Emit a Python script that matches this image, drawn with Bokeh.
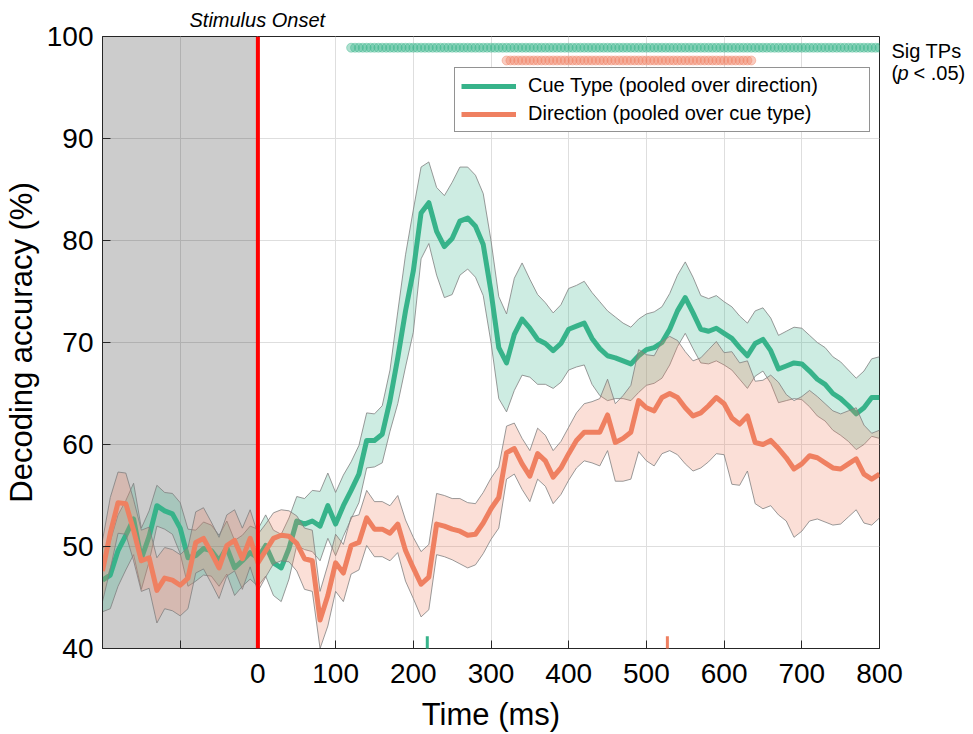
from bokeh.plotting import figure
from bokeh.layouts import row
from bokeh.models import (Range1d, FixedTicker, Span, BoxAnnotation, Label,
                          Legend, LegendItem, Arrow, ColumnDataSource)
from bokeh.embed import file_html
from bokeh.resources import INLINE

# ---------------- data ----------------
times = list(range(-200, 810, 10))  # ms

cue_mean = [
    46.7, 47.2, 49.6, 51.1, 52.7, 48.8, 51.0, 54.0, 53.5, 53.2,
    51.8, 48.9, 49.1, 49.8, 49.6, 48.6, 49.9, 47.9, 48.6, 49.4,
    48.9, 50.1, 48.4, 47.9, 49.8, 52.5, 52.2, 52.5, 52.0, 54.0,
    52.2, 54.0, 55.5, 57.1, 60.4, 60.4, 61.0, 64.3, 68.5, 73.1,
    77.0, 82.7, 83.7, 80.9, 79.4, 80.2, 81.9, 82.2, 81.4, 79.6,
    75.0, 69.5, 68.0, 70.8, 72.3, 71.4, 70.3, 69.9, 69.2, 69.9,
    71.3, 71.6, 71.9, 70.4, 69.4, 68.7, 68.5, 68.2, 67.9, 68.7,
    69.3, 69.5, 70.0, 71.3, 73.1, 74.4, 72.9, 71.3, 71.1, 71.4,
    70.9, 70.4, 69.5, 68.7, 69.9, 70.3, 69.2, 67.4, 67.7, 68.0,
    67.9, 67.2, 66.4, 65.9, 65.0, 64.5, 63.8, 63.0, 63.6, 64.6,
    64.6]
cue_sem = [
    3.1, 3.3, 3.5, 3.4, 3.5, 3.0, 2.5, 2.0, 1.8, 2.0,
    2.5, 2.8, 2.5, 2.6, 2.5, 2.5, 2.6, 2.7, 2.5, 2.6,
    2.8, 3.0, 3.2, 3.3, 3.0, 2.4, 2.5, 3.0, 3.4, 3.2,
    3.1, 3.0, 2.8, 2.8, 2.7, 2.6, 2.8, 3.0, 4.5, 5.5,
    6.0, 4.5, 4.0, 4.3, 5.0, 5.5, 5.3, 5.0, 5.0, 5.0,
    5.0, 5.0, 4.8, 5.5, 5.5, 4.8, 4.4, 4.0, 3.7, 3.8,
    4.0, 4.0, 4.1, 4.5, 4.6, 4.4, 4.0, 3.7, 3.6, 3.6,
    3.5, 3.5, 3.5, 3.5, 3.5, 3.5, 3.5, 3.3, 3.2, 3.2,
    3.1, 3.1, 3.1, 3.2, 3.2, 3.1, 3.2, 3.3, 3.4, 3.5,
    3.5, 3.5, 3.6, 3.6, 3.6, 3.6, 3.5, 3.5, 3.6, 3.8,
    4.0]
dir_mean = [
    47.6, 51.3, 54.3, 54.2, 51.6, 48.6, 48.9, 45.7, 46.9, 46.7,
    46.2, 46.9, 50.4, 50.8, 49.4, 47.9, 50.1, 50.6, 48.8, 50.8,
    48.4, 49.6, 50.8, 51.1, 51.0, 50.3, 48.8, 48.6, 42.8, 45.2,
    48.4, 47.4, 50.1, 50.4, 52.8, 51.7, 51.7, 51.3, 52.2, 49.6,
    47.9, 46.3, 47.0, 52.2, 52.0, 51.7, 51.5, 51.1, 51.2, 52.3,
    53.7, 54.8, 59.2, 59.6, 58.1, 56.9, 59.1, 58.4, 56.8, 57.7,
    59.1, 60.4, 61.2, 61.2, 61.2, 62.9, 60.2, 60.6, 61.2, 64.3,
    63.6, 63.3, 64.6, 65.0, 64.6, 63.6, 62.8, 63.1, 63.8, 64.6,
    64.0, 62.6, 62.0, 62.8, 60.2, 60.0, 60.4, 59.6, 58.7, 57.6,
    58.1, 58.9, 58.7, 58.2, 57.7, 57.6, 58.1, 58.6, 57.1, 56.6,
    57.1]
dir_sem = [
    3.0, 3.5, 3.0, 3.0, 3.0, 3.0, 3.0, 3.2, 3.0, 3.0,
    3.0, 3.0, 3.0, 3.0, 3.0, 3.0, 3.0, 3.0, 3.0, 2.8,
    2.8, 2.6, 2.5, 2.5, 2.5, 2.7, 3.0, 3.0, 2.8, 3.0,
    2.8, 2.8, 2.8, 2.7, 2.7, 2.7, 2.7, 2.7, 2.8, 3.0,
    3.0, 3.2, 3.2, 3.0, 3.0, 3.0, 3.2, 3.2, 3.0, 3.0,
    3.0, 3.0, 2.6, 2.5, 2.5, 2.5, 2.5, 2.5, 2.6, 2.6,
    2.6, 2.7, 2.8, 3.0, 3.3, 3.5, 3.8, 4.2, 4.6, 5.0,
    5.2, 5.4, 5.5, 5.6, 5.6, 5.5, 5.4, 5.4, 5.5, 5.5,
    5.0, 6.5, 6.0, 5.4, 6.0, 6.3, 6.4, 6.5, 6.2, 6.7,
    6.6, 6.4, 6.0, 5.8, 5.6, 5.4, 5.2, 5.0, 4.8, 4.5,
    4.3]

# significant time points (5 ms steps)
cue_sig_times = list(range(120, 805, 5))
dir_sig_times = list(range(320, 640, 5))
cue_sig_level = 98.9
dir_sig_level = 97.65

# peak latencies (ms)
cue_peak = 218
dir_peak = 527

baseline_window = [-200, 0]
onset_time = 0

x_ticks = [-100, 0, 100, 200, 300, 400, 500, 600, 700, 800]
y_ticks = [40, 50, 60, 70, 80, 90, 100]

labels = ["Cue Type (pooled over direction)", "Direction (pooled over cue type)"]
onset_label = "Stimulus Onset"

GREEN = "#37b38a"
ORANGE = "#ef8061"
DARK = "#262626"
FONT = "Liberation Sans"

# ---------------- main figure ----------------
p = figure(width=969, height=734, output_backend="svg", toolbar_location=None,
           x_range=Range1d(-200, 800), y_range=Range1d(40, 100),
           min_border_left=101, min_border_right=90, min_border_top=35, min_border_bottom=86)
p.background_fill_color = "white"
p.border_fill_color = "white"
p.outline_line_color = DARK
p.outline_line_width = 1

# title used as the "Stimulus Onset" annotation
p.title.text = onset_label
p.title.align = "left"
p.title.offset = 87
p.title.standoff = 12
p.title.text_font = FONT
p.title.text_font_size = "20px"
p.title.text_font_style = "italic"
p.title.text_color = "black"

for ax in (p.xaxis[0], p.yaxis[0]):
    ax.major_label_text_font = FONT
    ax.major_label_text_font_size = "28px"
    ax.major_label_text_color = "black"
    ax.axis_label_text_font = FONT
    ax.axis_label_text_font_size = "31px"
    ax.axis_label_text_font_style = "normal"
    ax.axis_label_text_color = "black"
    ax.major_tick_in = 8
    ax.major_tick_out = 0
    ax.minor_tick_line_color = None
    ax.axis_line_color = DARK
    ax.major_tick_line_color = DARK

p.xaxis[0].ticker = FixedTicker(ticks=x_ticks)
p.xaxis[0].major_label_overrides = {-100: ""}
p.xaxis[0].axis_label = "Time (ms)"
p.xaxis[0].major_label_standoff = 15
p.xaxis[0].axis_label_standoff = 11
p.yaxis[0].ticker = FixedTicker(ticks=y_ticks)
p.yaxis[0].axis_label = "Decoding accuracy (%)"
p.yaxis[0].major_label_standoff = 9
p.yaxis[0].axis_label_standoff = 5

p.xgrid[0].ticker = FixedTicker(ticks=x_ticks)
p.ygrid[0].ticker = FixedTicker(ticks=y_ticks)
for g in (p.xgrid[0], p.ygrid[0]):
    g.grid_line_color = "#dedede"
    g.grid_line_width = 1

# baseline shading
p.add_layout(BoxAnnotation(left=baseline_window[0], right=baseline_window[1],
                           fill_color="black", fill_alpha=0.2, line_color=None, level="underlay"))

# series
def series(mean, sem, color):
    lo = [m - s for m, s in zip(mean, sem)]
    hi = [m + s for m, s in zip(mean, sem)]
    src = ColumnDataSource(dict(t=times, m=mean, lo=lo, hi=hi))
    p.varea(x="t", y1="lo", y2="hi", source=src, fill_color=color, fill_alpha=0.25)
    p.line(x="t", y="lo", source=src, line_color="#808080", line_width=0.8)
    p.line(x="t", y="hi", source=src, line_color="#808080", line_width=0.8)
    r = p.line(x="t", y="m", source=src, line_color=color, line_width=5, line_join="round")
    return r

r_cue = series(cue_mean, cue_sem, GREEN)
r_dir = series(dir_mean, dir_sem, ORANGE)

# stimulus onset line
p.add_layout(Span(location=onset_time, dimension="height", line_color="#ff0000", line_width=4))

# significance dots
p.scatter(x=cue_sig_times, y=[cue_sig_level] * len(cue_sig_times), size=9,
          fill_color=GREEN, fill_alpha=0.4, line_color=GREEN, line_alpha=0.5, line_width=0.8)
p.scatter(x=dir_sig_times, y=[dir_sig_level] * len(dir_sig_times), size=9,
          fill_color=ORANGE, fill_alpha=0.4, line_color=ORANGE, line_alpha=0.5, line_width=0.8)

# peak markers
p.add_layout(Arrow(x_start=cue_peak, x_end=cue_peak, y_start=39.2, y_end=41.2, start=None, end=None,
                   line_color=GREEN, line_width=3))
p.add_layout(Arrow(x_start=dir_peak, x_end=dir_peak, y_start=39.2, y_end=41.2, start=None, end=None,
                   line_color=ORANGE, line_width=3))

# legend
legend = Legend(items=[LegendItem(label=labels[0], renderers=[r_cue]),
                       LegendItem(label=labels[1], renderers=[r_dir])],
                location=(352, 516), margin=0, padding=6, spacing=5,
                glyph_width=55, glyph_height=20, label_standoff=12, label_width=335,
                label_text_font=FONT, label_text_font_size="20px", label_text_color="black",
                border_line_color=DARK, border_line_width=1, background_fill_alpha=1.0)
p.add_layout(legend, "center")

# ---------------- transparent strip over the right margin for "Sig TPs (p < .05)" ----------------
side = figure(width=86, height=734, output_backend="svg", toolbar_location=None, title=None,
              x_range=Range1d(0, 86), y_range=Range1d(734, 0),
              x_axis_type=None, y_axis_type=None, min_border=0)
side.outline_line_color = None
side.background_fill_alpha = 0.0
side.border_fill_alpha = 0.0
side.margin = (0, 0, 0, -86)

note_style = dict(text_font=FONT, text_font_size="20px", text_color="black",
                  text_baseline="middle", text_align="left")
side.add_layout(Label(x=8, y=17, text="Sig TPs", **note_style))
side.add_layout(Label(x=8, y=44, text="(", **note_style))
side.add_layout(Label(x=14, y=44, text="p", text_font_style="italic", **note_style))
side.add_layout(Label(x=30, y=44, text="< .05)", **note_style))

layout = row(p, side, spacing=0)
open("out.html", "w").write(file_html(layout, INLINE))
